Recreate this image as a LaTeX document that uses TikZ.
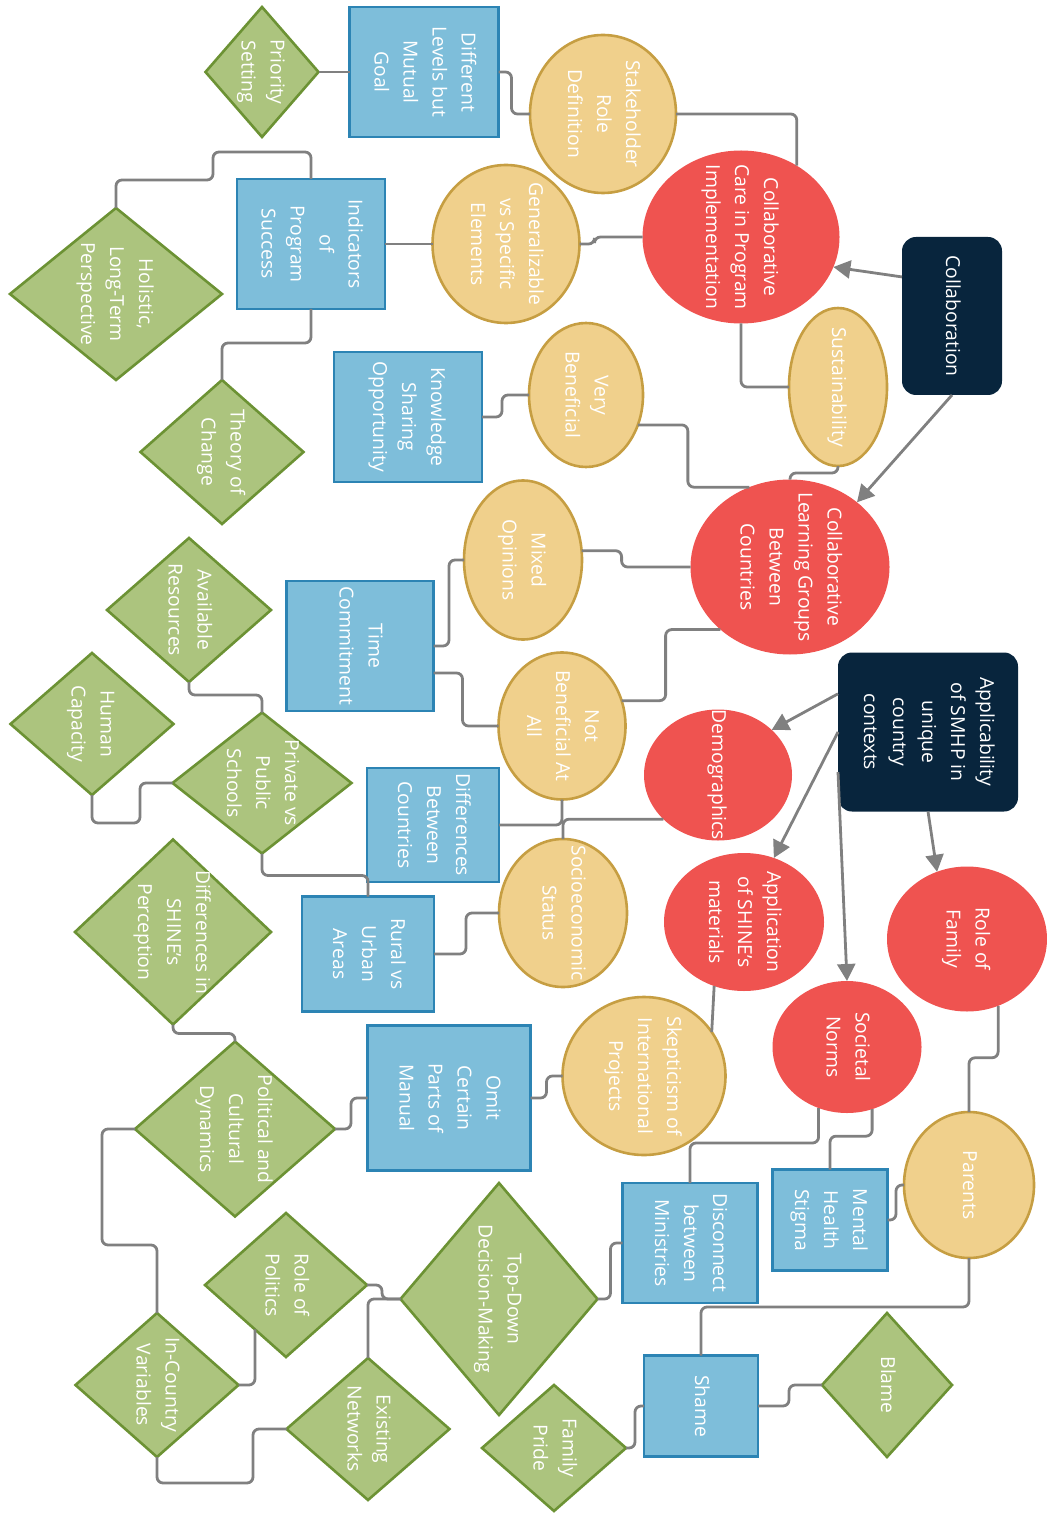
\documentclass[tikz,border=0pt]{standalone}
\usepackage{fontspec}
\setmainfont{Open Sans}
\usepackage{graphicx}
\usetikzlibrary{shapes.geometric, arrows.meta}

\definecolor{navy}{RGB}{8,37,61}
\definecolor{redfill}{RGB}{239,83,80}
\definecolor{sandfill}{RGB}{240,208,140}
\definecolor{sanddraw}{RGB}{198,158,66}
\definecolor{bluefill}{RGB}{126,190,218}
\definecolor{bluedraw}{RGB}{44,132,180}
\definecolor{greenfill}{RGB}{172,196,126}
\definecolor{greendraw}{RGB}{108,146,52}
\definecolor{linkgray}{RGB}{128,128,128}

% text runs downwards, centred on the node
\newcommand{\vtext}[1]{\makebox[0pt]{\raisebox{.5\depth}[0pt][0pt]{\rotatebox{-90}{\begin{tabular}{@{}c@{}}#1\end{tabular}}}}}

\tikzset{
  every node/.style={inner sep=0pt, outer sep=0pt, text=white, font=\fontsize{9.65}{14.5}\selectfont},
  hubbox/.style={rectangle, rounded corners=7pt, fill=navy},
  themecircle/.style={ellipse, fill=redfill},
  codeoval/.style={ellipse, fill=sandfill, draw=sanddraw, line width=1.3pt},
  topicbox/.style={rectangle, fill=bluefill, draw=bluedraw, line width=1.3pt},
  factordiamond/.style={diamond, aspect=1, fill=greenfill, draw=greendraw, line width=1.3pt},
  linkline/.style={draw=linkgray, line width=1.4pt, rounded corners=3pt},
  hubarrow/.style={linkline, -{Triangle[length=8.5pt,width=9pt]}}
}

\begin{document}
\begin{tikzpicture}[x=0.5pt, y=-0.5pt]
\useasboundingbox (0,0) rectangle (1047,1513);

% Hubs
\node[hubbox, minimum width=50pt, minimum height=79pt] (collab) at (952,316) {\vtext{Collaboration}};
\node[hubbox, minimum width=90pt, minimum height=79.5pt] (applic) at (928,732) {\vtext{Applicability\\of SMHP in\\unique\\country\\contexts}};

% Themes (red)
\node[themecircle, minimum width=98.5pt, minimum height=86.5pt] (care) at (741,237) {\vtext{Collaborative\\Care in Program\\Implementation}};
\node[themecircle, minimum width=99.5pt, minimum height=87.5pt] (learn) at (790,567) {\vtext{Collaborative\\Learning Groups\\Between\\Countries}};
\node[themecircle, minimum width=74pt, minimum height=65.5pt] (demo) at (718,775) {\vtext{Demographics}};
\node[themecircle, minimum width=80pt, minimum height=69pt] (apply) at (744,922) {\vtext{Application\\of SHINE's\\materials}};
\node[themecircle, minimum width=80pt, minimum height=72.5pt] (family) at (967,939) {\vtext{Role of\\Family}};
\node[themecircle, minimum width=74.5pt, minimum height=66pt] (norms) at (847,1047) {\vtext{Societal\\Norms}};

% Codes (yellow)
\node[codeoval, minimum width=73pt, minimum height=79pt] (stake) at (603,114) {\vtext{Stakeholder\\Role\\Definition}};
\node[codeoval, minimum width=73.5pt, minimum height=79pt] (gener) at (506,244) {\vtext{Generalizable\\vs Specific\\Elements}};
\node[codeoval, minimum width=49pt, minimum height=79pt] (sustain) at (838,387) {\vtext{Sustainability}};
\node[codeoval, minimum width=57pt, minimum height=72pt] (verybe) at (586,395) {\vtext{Very\\Beneficial}};
\node[codeoval, minimum width=59pt, minimum height=79.5pt] (mixed) at (523,560) {\vtext{Mixed\\Opinions}};
\node[codeoval, minimum width=63.5pt, minimum height=73.5pt] (notben) at (562,726) {\vtext{Not\\Beneficial At\\All}};
\node[codeoval, minimum width=64pt, minimum height=74pt] (socio) at (563,913) {\vtext{Socioeconomic\\Status}};
\node[codeoval, minimum width=81.5pt, minimum height=79pt] (skept) at (644,1076) {\vtext{Skepticism of\\International\\Projects}};
\node[codeoval, minimum width=65pt, minimum height=73pt] (parents) at (969,1185) {\vtext{Parents}};

% Topics (blue)
\node[topicbox, minimum width=74.5pt, minimum height=65pt] (difflev) at (424,72) {\vtext{Different\\Levels but\\Mutual\\Goal}};
\node[topicbox, minimum width=74pt, minimum height=65pt] (indic) at (311,244) {\vtext{Indicators\\of\\Program\\Success}};
\node[topicbox, minimum width=74pt, minimum height=65pt] (knowl) at (408,417) {\vtext{Knowledge\\Sharing\\Opportunity}};
\node[topicbox, minimum width=73.5pt, minimum height=65pt] (timec) at (360,646) {\vtext{Time\\Commitment}};
\node[topicbox, minimum width=66pt, minimum height=57pt] (diffc) at (433,825) {\vtext{Differences\\Between\\Countries}};
\node[topicbox, minimum width=66pt, minimum height=57.5pt] (rural) at (368,954) {\vtext{Rural vs\\Urban\\Areas}};
\node[topicbox, minimum width=81.5pt, minimum height=72.5pt] (omit) at (449,1098) {\vtext{Omit\\Certain\\Parts of\\Manual}};
\node[topicbox, minimum width=57.5pt, minimum height=50.5pt] (mental) at (830,1220) {\vtext{Mental\\Health\\Stigma}};
\node[topicbox, minimum width=67.5pt, minimum height=60pt] (discon) at (690,1243) {\vtext{Disconnect\\between\\Ministries}};
\node[topicbox, minimum width=57pt, minimum height=50.5pt] (shame) at (701,1406) {\vtext{Shame}};

% Factors (green)
\node[factordiamond, minimum width=56.5pt, minimum height=65pt] (prior) at (262,72) {\vtext{Priority\\Setting}};
\node[factordiamond, minimum width=106pt, minimum height=86pt] (holist) at (116,294) {\vtext{Holistic,\\Long-Term\\Perspective}};
\node[factordiamond, minimum width=81.5pt, minimum height=72pt] (theory) at (222,452) {\vtext{Theory of\\Change}};
\node[factordiamond, minimum width=82pt, minimum height=72pt] (avail) at (189,610) {\vtext{Available\\Resources}};
\node[factordiamond, minimum width=81.5pt, minimum height=71pt] (human) at (92,724) {\vtext{Human\\Capacity}};
\node[factordiamond, minimum width=89.5pt, minimum height=70.5pt] (privat) at (262,783) {\vtext{Private vs\\Public\\Schools}};
\node[factordiamond, minimum width=98pt, minimum height=92.5pt] (diffsh) at (173,932) {\vtext{Differences in\\SHINE's\\Perception}};
\node[factordiamond, minimum width=100pt, minimum height=87.5pt] (politic) at (235,1129) {\vtext{Political and\\Cultural\\Dynamics}};
\node[factordiamond, minimum width=98.5pt, minimum height=116pt] (topdown) at (499,1299) {\vtext{Top-Down\\Decision-Making}};
\node[factordiamond, minimum width=81pt, minimum height=72pt] (rolepol) at (286,1285) {\vtext{Role of\\Politics}};
\node[factordiamond, minimum width=81.5pt, minimum height=72pt] (incount) at (157,1385) {\vtext{In-Country\\Variables}};
\node[factordiamond, minimum width=81.5pt, minimum height=71pt] (exist) at (368,1429) {\vtext{Existing\\Networks}};
\node[factordiamond, minimum width=72pt, minimum height=63pt] (fpride) at (554,1448) {\vtext{Family\\Pride}};
\node[factordiamond, minimum width=65pt, minimum height=72pt] (blame) at (887,1385) {\vtext{Blame}};

% Arrows from hubs
\draw[hubarrow] (collab.142) -- (care.-18);
\draw[hubarrow] (collab.south) -- (learn.44);
\draw[hubarrow] (applic.157) -- (demo.40);
\draw[hubarrow] (applic.west) -- (apply.65);
\draw[hubarrow] (applic.204) -- (norms.north);
\draw[hubarrow] (applic.south) -- (family.114);

% Upper links
\draw[linkline] (prior.east) -- (difflev.west);
\draw[linkline] (difflev.east) -- ++(13,0) |- (stake.west);
\draw[linkline] (stake.east) -| (care.52);
\draw[linkline] (gener.east) -- ++(15,0) |- (care.west);
\draw[linkline] (care.south) |- (sustain.west);
\draw[linkline] (indic.east) -- (gener.west);
\draw[linkline] (indic.north) -- ++(0,-27) -- ++(-98,0) -- ++(0,28) -| (holist.north);
\draw[linkline] (indic.south) -- ++(0,34) -| (theory.north);
\draw[linkline] (knowl.east) -- ++(20,0) |- (verybe.west);
\draw[linkline] (verybe.-30) -- ++(50,0) |- (learn.117);
\draw[linkline] (sustain.south) -- ++(0,7) -| (learn.north);

% Middle links
\draw[linkline] (mixed.9) -- ++(40,0) |- (learn.west);
\draw[linkline] (mixed.west) -- ++(-15,0) |- (timec.east);
\draw[linkline] ([yshift=-13.5pt]timec.east) -- ++(29,0) |- (notben.west);
\draw[linkline] (notben.23) -- ++(44,0) |- (learn.-138);
\draw[linkline] (notben.south) |- (diffc.east);
\draw[linkline] (demo.-141) -| (socio.north);
\draw[linkline] (socio.west) -- ++(-33,0) |- (rural.east);
\draw[linkline] (avail.south) -- ++(0,13) -| (privat.north);
\draw[linkline] (human.south) -- ++(0,28) -- ++(48,0) |- (privat.west);
\draw[linkline] (privat.south) -- ++(0,22) -| (rural.north);

% Lower links
\draw[linkline] (apply.-115) -- (skept.33);
\draw[linkline] (skept.west) -- ++(-16,0) |- (omit.east);
\draw[linkline] (politic.east) -- ++(16,0) |- (omit.west);
\draw[linkline] (diffsh.south) -- ++(0,9) -| (politic.north);
\draw[linkline] (politic.west) -- ++(-33,0) -- ++(0,116) -| (incount.north);
\draw[linkline] (rolepol.east) -- ++(15,0) |- (topdown.west);
\draw[linkline] (exist.north) |- (topdown.west);
\draw[linkline] (rolepol.-125) |- (incount.east);
\draw[linkline] (incount.south) -- ++(0,26) -- ++(96,0) |- (exist.west);
\draw[linkline] (topdown.east) -- ++(13,0) |- (discon.west);
\draw[linkline] (norms.-115) -- ++(0,35) -| (discon.north);
\draw[linkline] (norms.-68) -- ++(0,27) -| (mental.north);
\draw[linkline] (parents.west) -- ++(-8,0) |- (mental.east);
\draw[linkline] (family.-65) -- ++(0,52) -| (parents.north);
\draw[linkline] (parents.south) -- ++(0,49) -| (shame.north);
\draw[linkline] (shame.east) -- ++(31,0) |- (blame.west);
\draw[linkline] (shame.west) -- ++(-9,0) |- (fpride.east);
\end{tikzpicture}
\end{document}
